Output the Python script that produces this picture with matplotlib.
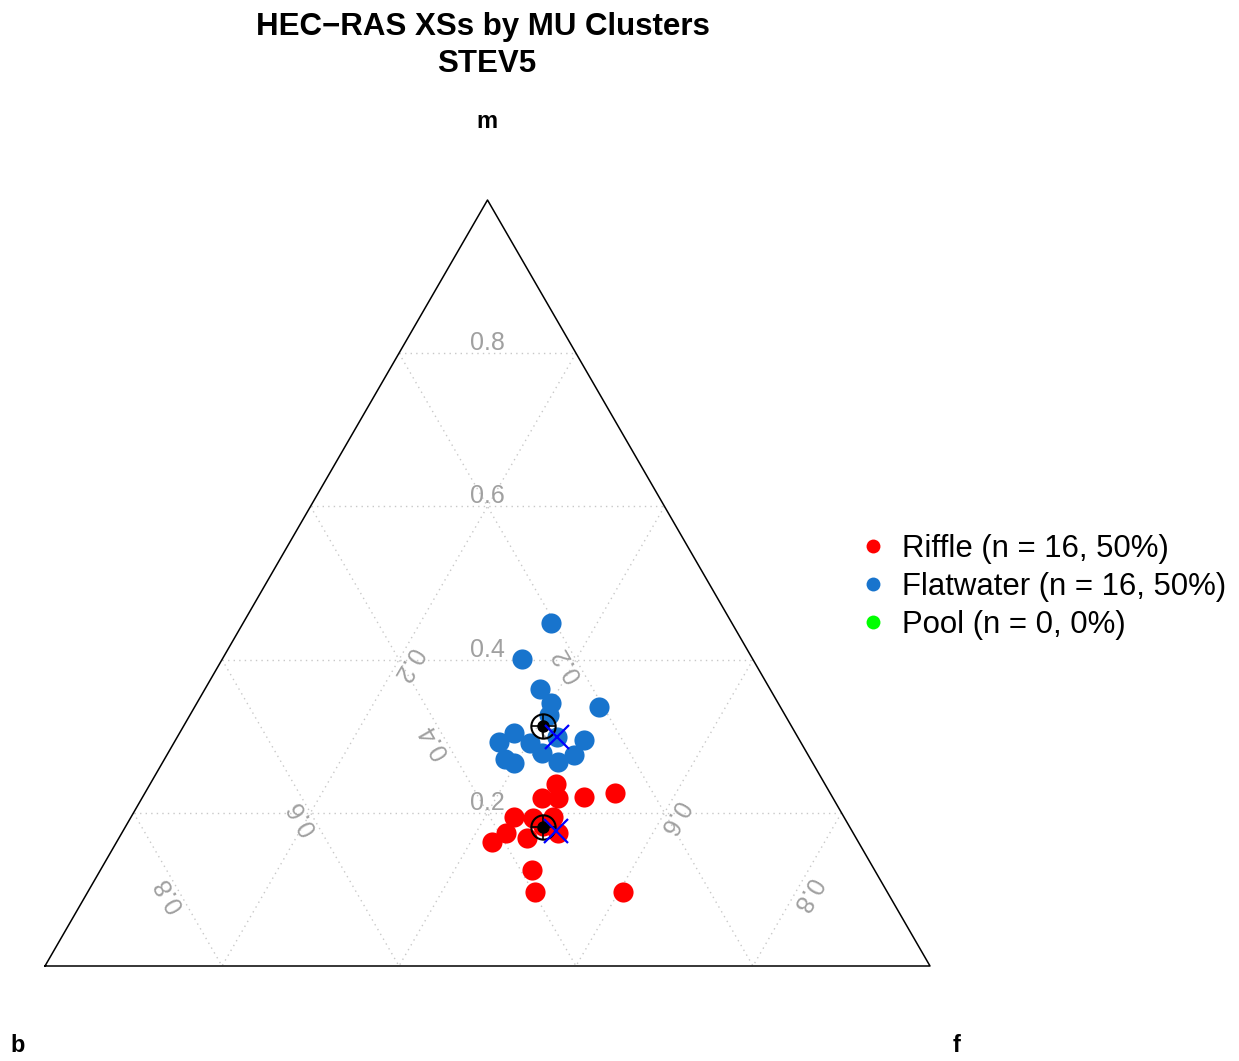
import numpy as np
import matplotlib
matplotlib.use("Agg")
import matplotlib.pyplot as plt
from matplotlib.lines import Line2D

plt.rcParams['font.family'] = ['Liberation Sans', 'DejaVu Sans']

# ---------------- data ----------------
title_line1 = "HEC\u2212RAS XSs by MU Clusters"
title_line2 = "STEV5"
axis_top, axis_left, axis_right = "m", "b", "f"
grid_levels = [0.2, 0.4, 0.6, 0.8]
tick_labels = ["0.2", "0.4", "0.6", "0.8"]

cluster_names = ["Riffle", "Flatwater", "Pool"]
cluster_counts = [16, 16, 0]
cluster_pcts = [50, 50, 0]
cluster_colors = ["#FF0000", "#1874CD", "#00FF00"]

# compositions (m, f); b = 1 - m - f
riffle_m = [0.238, 0.219, 0.219, 0.221, 0.226, 0.195, 0.193, 0.195,
            0.174, 0.162, 0.167, 0.174, 0.125, 0.097, 0.097, 0.183]
riffle_f = [0.458, 0.452, 0.470, 0.499, 0.531, 0.433, 0.455, 0.477,
            0.434, 0.424, 0.461, 0.493, 0.488, 0.505, 0.605, 0.471]

flat_m = [0.448, 0.401, 0.362, 0.343, 0.338, 0.328, 0.304, 0.292,
          0.291, 0.299, 0.295, 0.278, 0.276, 0.266, 0.270, 0.265]
flat_f = [0.348, 0.339, 0.378, 0.400, 0.457, 0.405, 0.378, 0.367,
          0.403, 0.429, 0.461, 0.423, 0.460, 0.447, 0.385, 0.397]

# cluster centres (mean: target symbol, second centre: blue cross)
mean_m = [0.1815, 0.3133]
mean_f = [0.4721, 0.4062]
cross_m = [0.1762, 0.2990]
cross_f = [0.4894, 0.4292]

# ---------------- helpers ----------------
S3 = np.sqrt(3) / 2


def tern(m, f):
    m = np.asarray(m, float)
    f = np.asarray(f, float)
    return f + 0.5 * m, m * S3


W, H = 1239, 1061
fig = plt.figure(figsize=(W / 100, H / 100), dpi=100)
ax = fig.add_axes([45 / W, 95 / H, 885 / W, 766 / H])
ax.set_xlim(0, 1)
ax.set_ylim(0, S3)
ax.axis("off")

grid_kw = dict(color="#C8C8C8", lw=1.0, ls=(0, (1, 3)), zorder=1)
for c in grid_levels:
    # m = c
    x, y = tern([c, c], [0, 1 - c])
    ax.plot(x, y, **grid_kw)
    # b = c
    x, y = tern([1 - c, 0], [0, 1 - c])
    ax.plot(x, y, **grid_kw)
    # f = c
    x, y = tern([1 - c, 0], [c, c])
    ax.plot(x, y, **grid_kw)

# triangle outline
x, y = tern([0, 0, 1, 0], [0, 1, 0, 0])
ax.plot(x, y, color="black", lw=1.1, zorder=2, clip_on=False)

# tick labels
off = 10 / 885  # ~10 px in data units
lab_kw = dict(color="#A0A0A0", fontsize=18, ha="center", va="center",
              rotation_mode="anchor", zorder=1.5)
for c, t in zip(grid_levels, tick_labels):
    # m labels
    x, y = tern(c, (1 - c) / 2)
    ax.text(x, y + off, t, rotation=0, **lab_kw)
    # b labels
    x, y = tern((1 - c) / 2, (1 - c) / 2)
    a = np.deg2rad(210)
    ax.text(x + off * np.cos(a), y + off * np.sin(a), t, rotation=120, **lab_kw)
    # f labels
    x, y = tern((1 - c) / 2, c)
    a = np.deg2rad(-30)
    ax.text(x + off * np.cos(a), y + off * np.sin(a), t, rotation=-120, **lab_kw)

# points
pt = 14.5
xr, yr = tern(riffle_m, riffle_f)
ax.plot(xr, yr, "o", ms=pt, color=cluster_colors[0], mec="none", zorder=3, clip_on=False)
xf, yf = tern(flat_m, flat_f)
ax.plot(xf, yf, "o", ms=pt, color=cluster_colors[1], mec="none", zorder=3, clip_on=False)

# centre markers
xm, ym = tern(mean_m, mean_f)
ax.plot(xm, ym, "o", ms=17.5, mfc="none", mec="black", mew=1.5, zorder=5)
ax.plot(xm, ym, "+", ms=17.5, color="black", mew=1.2, zorder=5)
ax.plot(xm, ym, "o", ms=8, color="black", zorder=5)
xc, yc = tern(cross_m, cross_f)
ax.plot(xc, yc, "x", ms=17, color="#0000FF", mew=1.6, zorder=6)

# corner labels
def px2d(px, py):
    return (px - 45) / 885, (966 - py) / 766 * S3

for name, (px, py) in zip([axis_top, axis_left, axis_right],
                          [(487, 122), (18, 1046), (957, 1046)]):
    x, y = px2d(px, py)
    ax.text(x, y, name, fontsize=17, weight="bold", ha="center", va="center",
            clip_on=False)

# titles
fig.text(483 / W, 1 - 27 / H, title_line1, fontsize=22.5, weight="bold",
         ha="center", va="center")
fig.text(487 / W, 1 - 64 / H, title_line2, fontsize=22.5, weight="bold",
         ha="center", va="center")

# legend
handles = [Line2D([], [], ls="none", marker="o", ms=10, color=c, mec="none")
           for c in cluster_colors]
labels = [f"{n} (n = {k}, {p}%)" for n, k, p in
          zip(cluster_names, cluster_counts, cluster_pcts)]
fig.legend(handles, labels, loc="center left",
           bbox_to_anchor=(857 / W, 1 - 587 / H), frameon=False,
           fontsize=22.4, handlelength=1.0, handletextpad=0.45,
           labelspacing=0.25, borderpad=0, borderaxespad=0)

fig.savefig("out.png", dpi=100, facecolor="white")
